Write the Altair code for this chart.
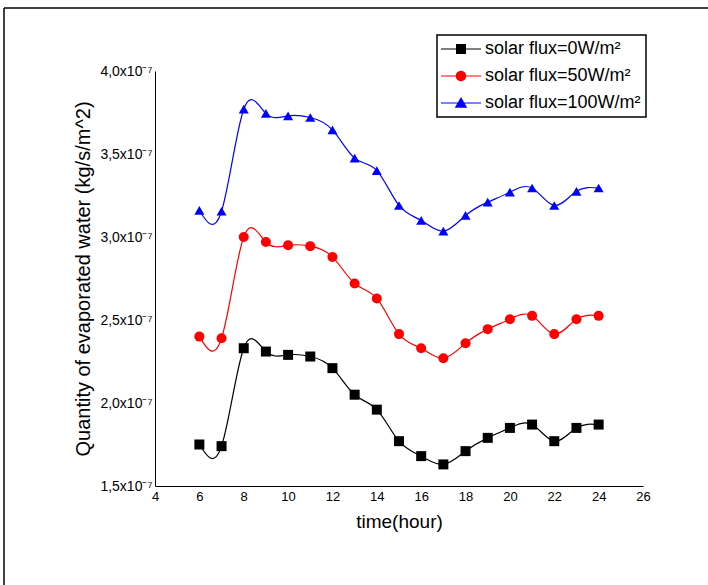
import altair as alt
import pandas as pd

hours = list(range(6, 25))
# values in units of 1e-7 kg/s/m^2
flux_0 = [1.75, 1.74, 2.33, 2.31, 2.29, 2.28, 2.21, 2.05, 1.96, 1.77, 1.68, 1.63,
          1.71, 1.79, 1.85, 1.87, 1.77, 1.85, 1.87]
flux_50 = [2.40, 2.39, 3.00, 2.97, 2.95, 2.945, 2.88, 2.72, 2.63, 2.415, 2.33, 2.27,
           2.36, 2.445, 2.505, 2.525, 2.415, 2.505, 2.525]
flux_100 = [3.16, 3.155, 3.77, 3.745, 3.73, 3.72, 3.645, 3.475, 3.40, 3.19, 3.10, 3.035,
            3.13, 3.21, 3.27, 3.295, 3.19, 3.275, 3.295]

series_names = ["solar flux=0W/m²", "solar flux=50W/m²", "solar flux=100W/m²"]
colors = ["#000000", "#ff0000", "#0000ff"]
point_shapes = ["square", "circle", "triangle-up"]
legend_shapes = [
    "M-4,-0.12H4V0.12H-4Z M-1,-1H1V1H-1Z",
    "M-4,-0.12H4V0.12H-4Z M1.05,0A1.05,1.05,0,1,1,-1.05,0A1.05,1.05,0,1,1,1.05,0Z",
    "M-4,-0.12H4V0.12H-4Z M0,-1.2L1.25,0.95L-1.25,0.95Z",
]

rows = []
for name, vals in zip(series_names, [flux_0, flux_50, flux_100]):
    for h, v in zip(hours, vals):
        rows.append({"hour": h, "value": v, "series": name})
df = pd.DataFrame(rows)

FONT = "Liberation Sans"
W, H = 488, 415
LEFT, TOP = 155, 71

x_enc = alt.X(
    "hour:Q",
    scale=alt.Scale(domain=[4, 26], nice=False, zero=False),
    axis=alt.Axis(values=list(range(4, 27, 2)), title="time(hour)", ticks=False,
                  grid=False, domainColor="black", labelColor="black",
                  labelFontSize=13, labelFont=FONT, titleFont=FONT, titleFontSize=19,
                  titleFontWeight="normal", titleColor="black", labelPadding=4,
                  titlePadding=9, labelFlush=False),
)
y_enc = alt.Y(
    "value:Q",
    scale=alt.Scale(domain=[1.5, 4.0], nice=False, zero=False),
    axis=alt.Axis(values=[1.5, 2.0, 2.5, 3.0, 3.5, 4.0],
                  labelExpr="replace(format(datum.value, '.1f'), '.', ',') + 'x10⁻⁷'",
                  title="Quantity of evaporated water (kg/s/m^2)", ticks=False,
                  grid=False, domainColor="black", labelColor="black",
                  labelFontSize=14, labelFont=FONT, titleFont=FONT, titleFontSize=20,
                  titleFontWeight="normal", titleColor="black", labelPadding=3,
                  titlePadding=6, labelFlush=False),
)


def color_enc(legend):
    return alt.Color("series:N", scale=alt.Scale(domain=series_names, range=colors),
                     legend=legend)


base = alt.Chart(df)

lines = base.mark_line(interpolate="natural", strokeWidth=1.2).encode(
    x=x_enc, y=y_enc, color=color_enc(None), detail="series:N",
)

points = base.mark_point(filled=True, opacity=1, size=100).encode(
    x=x_enc, y=y_enc, color=color_enc(None),
    shape=alt.Shape("series:N", scale=alt.Scale(domain=series_names, range=point_shapes),
                    legend=None),
)

legend_props = dict(
    orient="none", legendX=282, legendY=-36, title=None,
    strokeColor="black", fillColor="white", padding=5,
    labelFont=FONT, labelFontSize=18, labelColor="black", labelOffset=15,
    symbolOffset=10, symbolSize=100, symbolStrokeWidth=0, symbolOpacity=1,
    rowPadding=9,
)

legend_layer = base.transform_filter("false").mark_point(filled=True, opacity=1, size=100).encode(
    x=x_enc, y=y_enc,
    color=color_enc(alt.Legend(**legend_props)),
    shape=alt.Shape("series:N", scale=alt.Scale(domain=series_names, range=legend_shapes),
                    legend=alt.Legend(**legend_props)),
)

frame_df = pd.DataFrame({"k": [0]})
frame_top = alt.Chart(frame_df).mark_rule(color="black", strokeWidth=1.5).encode(
    x=alt.value(4 - LEFT), x2=alt.value(708 - LEFT), y=alt.value(8 - TOP))
frame_left = alt.Chart(frame_df).mark_rule(color="black", strokeWidth=1.5).encode(
    x=alt.value(4 - LEFT), y=alt.value(8 - TOP), y2=alt.value(585 - TOP))

chart = alt.layer(lines, points, legend_layer, frame_top, frame_left).resolve_scale(
    shape="independent", color="independent"
).properties(
    width=W, height=H,
    padding={"left": LEFT, "top": TOP, "right": 708 - LEFT - W, "bottom": 585 - TOP - H},
    autosize=alt.AutoSizeParams(type="none"),
    background="white",
).configure_view(stroke=None).configure_legend(strokeWidth=1.5, cornerRadius=0)

chart.save("out.html", embed_options={"renderer": "svg", "actions": False})
